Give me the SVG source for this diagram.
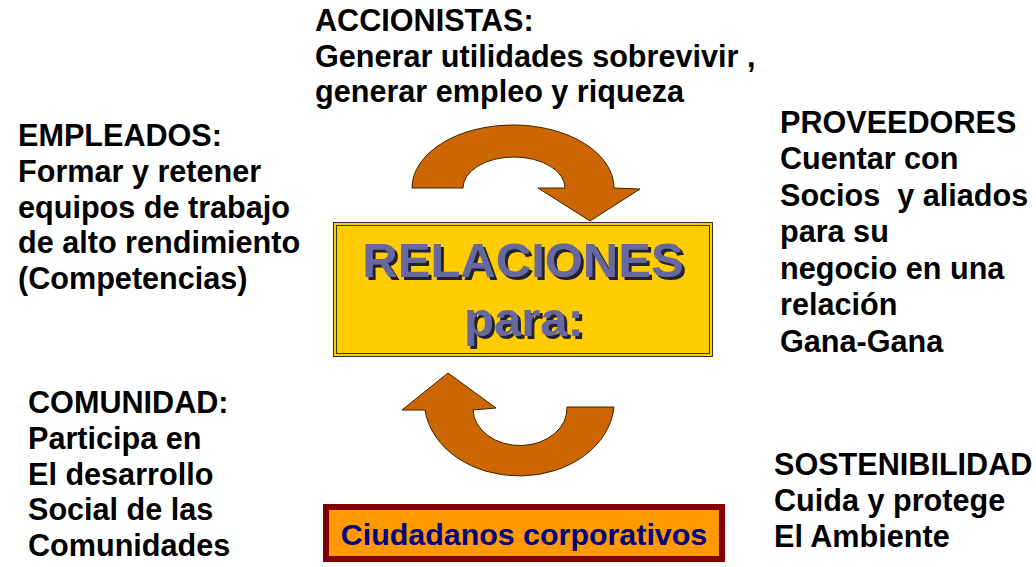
<svg xmlns="http://www.w3.org/2000/svg" width="1036" height="567" viewBox="0 0 1036 567">
  <style>
    .t { font-family: "Liberation Sans", Arial, sans-serif; font-weight: bold; font-size: 30.6px; fill: #000; }
    .big { font-family: "Liberation Sans", Arial, sans-serif; font-weight: bold; font-size: 49px; text-anchor: middle; fill: #6868A0; filter: url(#shadow); }
    .arrow { fill: #CC6600; stroke: #3a2000; stroke-width: 1; stroke-linejoin: round; }
  </style>
  <defs>
    <filter id="shadow" x="-10%" y="-20%" width="120%" height="140%">
      <feOffset in="SourceAlpha" dx="3" dy="3" result="off"/>
      <feFlood flood-color="#222233"/>
      <feComposite in2="off" operator="in" result="sh"/>
      <feMerge>
        <feMergeNode in="sh"/>
        <feMergeNode in="SourceGraphic"/>
      </feMerge>
    </filter>
  </defs>
  <rect width="1036" height="567" fill="#FFFFFF"/>

  <g id="connectors">
    <path class="arrow" d="M412,188 A101,63 0 0 1 614,188 L640,189 L590,221 L538,188 L565,188 A51,31 0 0 0 463,188 Z"/>
    <path class="arrow" d="M614,407 A95,75 0 0 1 425,410 L402,410 L448,373 L496,408 L473,410 A47,37 0 0 0 567,407 Z"/>
  </g>

  <g id="accionistas">
    <text class="t" x="315" y="31">ACCIONISTAS:</text>
    <text class="t" x="315" y="67">Generar utilidades sobrevivir ,</text>
    <text class="t" x="315" y="102">generar empleo y riqueza</text>
  </g>

  <g id="empleados">
    <text class="t" x="18" y="146">EMPLEADOS:</text>
    <text class="t" x="18" y="182">Formar y retener</text>
    <text class="t" x="18" y="218">equipos de trabajo</text>
    <text class="t" x="18" y="253">de alto rendimiento</text>
    <text class="t" x="18" y="289">(Competencias)</text>
  </g>

  <g id="proveedores">
    <text class="t" x="780" y="133">PROVEEDORES</text>
    <text class="t" x="780" y="169">Cuentar con</text>
    <text class="t" x="780" y="206" xml:space="preserve">Socios  y aliados</text>
    <text class="t" x="780" y="242">para su</text>
    <text class="t" x="780" y="279">negocio en una</text>
    <text class="t" x="780" y="315">relación</text>
    <text class="t" x="780" y="352">Gana-Gana</text>
  </g>

  <g id="relaciones">
    <rect x="333.5" y="222.5" width="379" height="134" fill="#FFCC00" stroke="#333" stroke-width="1"/>
    <rect x="336.5" y="225.5" width="373" height="128" fill="none" stroke="#333" stroke-width="1"/>
    <text class="big" x="523" y="277">RELACIONES</text>
    <text class="big" x="524" y="336">para:</text>
  </g>

  <g id="comunidad">
    <text class="t" x="28" y="413">COMUNIDAD:</text>
    <text class="t" x="28" y="449">Participa en</text>
    <text class="t" x="28" y="485">El desarrollo</text>
    <text class="t" x="28" y="520">Social de las</text>
    <text class="t" x="28" y="556">Comunidades</text>
  </g>

  <g id="sostenibilidad">
    <text class="t" x="774" y="475">SOSTENIBILIDAD</text>
    <text class="t" x="774" y="511">Cuida y protege</text>
    <text class="t" x="774" y="547">El Ambiente</text>
  </g>

  <g id="ciudadanos">
    <rect x="326" y="507" width="396" height="52" fill="#FF9900" stroke="#800000" stroke-width="6"/>
    <text x="524" y="545" text-anchor="middle" font-family="'Liberation Sans', Arial, sans-serif" font-weight="bold" font-size="30.4" fill="#000080">Ciudadanos corporativos</text>
  </g>
</svg>
